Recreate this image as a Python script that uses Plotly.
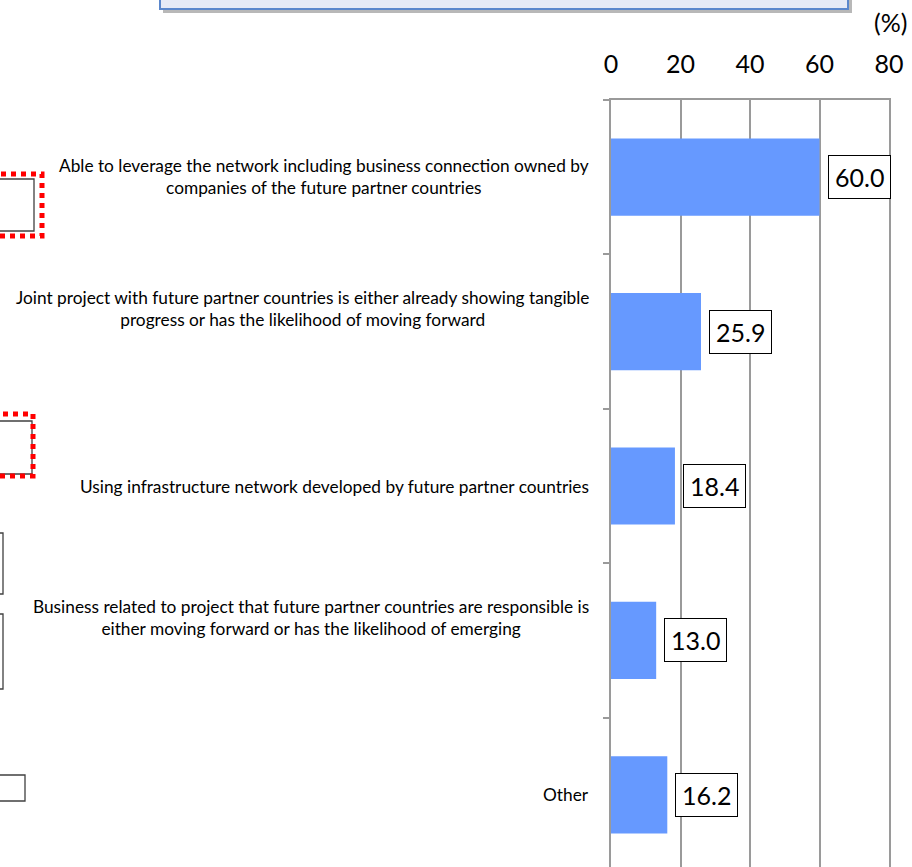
import plotly.graph_objects as go

# =============================================================================
# Data
# =============================================================================

categories = [
    "Able to leverage the network including business connection owned by<br>"
    "companies of the future partner countries",
    "Joint project with future partner countries is either already showing tangible<br>"
    "progress or has the likelihood of moving forward",
    "Using infrastructure network developed by future partner countries",
    "Business related to project that future partner countries are responsible is<br>"
    "either moving forward or has the likelihood of emerging",
    "Other",
]
values = [60.0, 25.9, 18.4, 13.0, 16.2]
x_ticks = [0, 20, 40, 60, 80]

# =============================================================================
# Layout helpers (pixel geometry of the page)
# =============================================================================

W, H = 912, 867
PLOT_L, PLOT_R, PLOT_T, PLOT_B = 611, 889, 100, 867
BAND = 154.4
BAR_COLOR = "#6699FF"
GRID = "#9a9a9a"
FONT = "Lato, 'Liberation Sans', sans-serif"


def px(x):
    return (x - PLOT_L) / (PLOT_R - PLOT_L)


def py(y):
    return 1 - (y - PLOT_T) / (PLOT_B - PLOT_T)


y_bottom = -0.5 + (PLOT_B - PLOT_T) / BAND

fig = go.Figure(
    go.Bar(
        x=values,
        y=list(range(len(categories))),
        orientation="h",
        width=0.5,
        marker=dict(color=BAR_COLOR, line=dict(width=0)),
        hoverinfo="skip",
    )
)

# category labels (left of the axis)
label_shift = [1, 23, 0, 23, 0]
for i, (cat, dy) in enumerate(zip(categories, label_shift)):
    fig.add_annotation(
        x=0, xref="paper", y=i, yref="y",
        text=cat, showarrow=False,
        xanchor="right", yanchor="middle", align="center",
        xshift=-20, yshift=dy,
        font=dict(family=FONT, size=17.3, color="black"),
    )

# value labels in boxes
for i, v in enumerate(values):
    fig.add_annotation(
        x=v, xref="x", y=i, yref="y",
        text=f"{v:.1f}", showarrow=False,
        xanchor="left", yanchor="middle",
        xshift=8,
        bgcolor="white", bordercolor="black", borderwidth=1, borderpad=6,
        font=dict(family=FONT, size=25, color="black"),
    )

# unit label
fig.add_annotation(
    x=px(909), xref="paper", y=py(22), yref="paper",
    text="(%)", showarrow=False, xanchor="right", yanchor="middle",
    font=dict(family=FONT, size=25, color="black"),
)

shapes = []

# top title box (cut off by the page edge) with its shadow
shapes.append(dict(type="rect", xref="paper", yref="paper",
                   x0=px(163), x1=px(852), y0=py(13), y1=py(-20),
                   fillcolor="#b8b8b8", line=dict(width=0), layer="below"))
shapes.append(dict(type="rect", xref="paper", yref="paper",
                   x0=px(160), x1=px(848), y0=py(9), y1=py(-20),
                   fillcolor="#e6eaf6", line=dict(color="#5b87cc", width=2)))

# boxes at the left page edge
for x1, y0, y1 in [(34, 179, 231), (32, 421, 474), (3, 533, 594),
                   (3, 614, 689), (25, 775, 801)]:
    shapes.append(dict(type="rect", xref="paper", yref="paper",
                       x0=px(-20), x1=px(x1), y0=py(y1), y1=py(y0),
                       line=dict(color="#404040", width=1.3)))
for x1, y0, y1 in [(42, 174, 236), (33, 414, 476)]:
    shapes.append(dict(type="rect", xref="paper", yref="paper",
                       x0=px(-20), x1=px(x1), y0=py(y1), y1=py(y0),
                       line=dict(color="#ff0000", width=5, dash="5px,5px")))

fig.update_layout(
    width=W,
    height=H,
    margin=dict(l=PLOT_L, r=W - PLOT_R, t=PLOT_T, b=H - PLOT_B, pad=0),
    paper_bgcolor="white",
    plot_bgcolor="white",
    showlegend=False,
    shapes=shapes,
    xaxis=dict(
        side="top",
        range=[0, 80],
        tickvals=x_ticks,
        ticktext=[str(t) for t in x_ticks],
        ticks="",
        ticklabelstandoff=15,
        tickfont=dict(family=FONT, size=25, color="black"),
        showgrid=True,
        gridcolor=GRID,
        gridwidth=1.5,
        zeroline=False,
        showline=True,
        linecolor=GRID,
        linewidth=1.5,
        fixedrange=True,
    ),
    yaxis=dict(
        type="linear",
        range=[y_bottom, -0.5],
        tickvals=[i + 0.5 for i in range(-1, len(categories))],
        showticklabels=False,
        ticks="outside",
        ticklen=6,
        tickcolor=GRID,
        tickwidth=1.5,
        showgrid=False,
        zeroline=False,
        showline=True,
        mirror=True,
        linecolor=GRID,
        linewidth=1.5,
        fixedrange=True,
    ),
)

fig.write_html(
    "out.html",
    config={"displayModeBar": False},
    post_script="document.body.style.margin='0';document.body.style.overflow='hidden';",
)
